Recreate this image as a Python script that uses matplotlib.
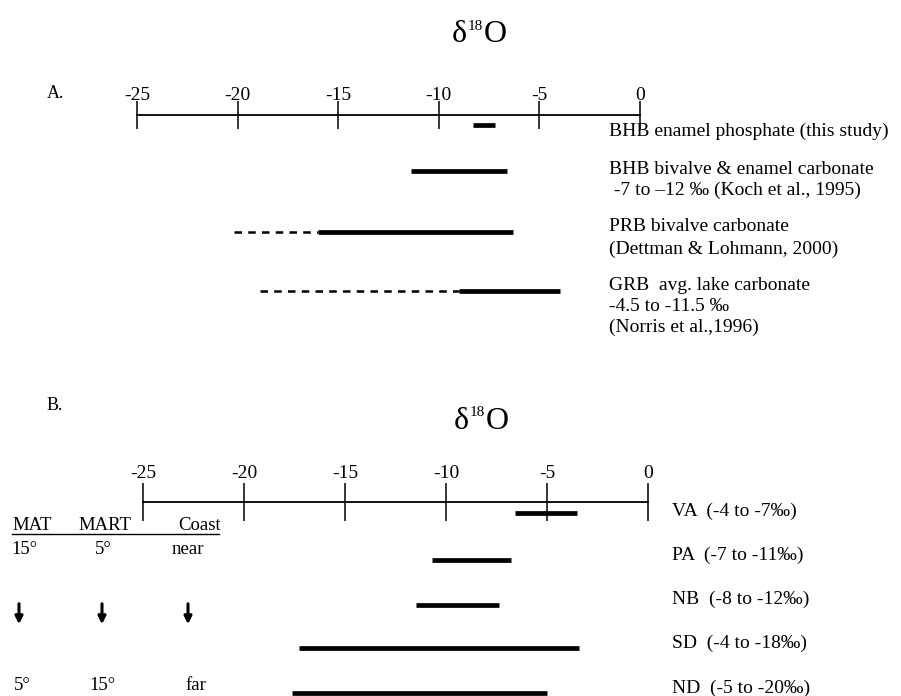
import numpy as np
import matplotlib
matplotlib.use('Agg')
import matplotlib.pyplot as plt
from matplotlib.lines import Line2D
from matplotlib.patches import FancyArrowPatch

plt.rcParams['font.family'] = ['Liberation Serif', 'DejaVu Serif']

# panel A: published d18O ranges
a_labels = [['BHB enamel phosphate (this study)'],
            ['BHB bivalve & enamel carbonate', ' -7 to \u201312 \u2030 (Koch et al., 1995)'],
            ['PRB bivalve carbonate', '(Dettman & Lohmann, 2000)'],
            ['GRB  avg. lake carbonate', '-4.5 to -11.5 \u2030', '(Norris et al.,1996)']]
a_lo = [-8.3, -11.4, -16.0, -9.0]
a_hi = [-7.2, -6.6, -6.3, -4.0]
a_dash_lo = [np.nan, np.nan, -20.2, -18.9]

# panel B: modern sites
b_sites = ['VA', 'PA', 'NB', 'SD', 'ND']
b_ranges = ['(-4 to -7\u2030)', '(-7 to -11\u2030)', '(-8 to -12\u2030)',
            '(-4 to -18\u2030)', '(-5 to -20\u2030)']
b_lo = [-6.6, -10.7, -11.5, -17.3, -17.6]
b_hi = [-3.5, -6.8, -7.4, -3.4, -5.0]

ticks = [-25, -20, -15, -10, -5, 0]

W, H = 901, 696
fig = plt.figure(figsize=(W / 100, H / 100), dpi=100)


def fx(x):
    return x / W


def fy(y):
    return 1 - y / H


def number_line(x0, x1, ytop, ybot, ticklen, pad):
    ax = fig.add_axes([fx(x0), fy(ybot), (x1 - x0) / W, (ybot - ytop) / H])
    ax.set_xlim(-25, 0)
    ax.set_ylim(ybot - ytop, 0)
    for s in ['bottom', 'left', 'right']:
        ax.spines[s].set_visible(False)
    ax.spines['top'].set_linewidth(1.3)
    ax.xaxis.tick_top()
    ax.set_xticks(ticks)
    ax.set_xticklabels([str(t) for t in ticks])
    ax.tick_params(axis='x', direction='inout', length=ticklen, width=1.1,
                   pad=pad, labelsize=14)
    ax.set_yticks([])
    ax.patch.set_visible(False)
    return ax


def delta_title(x, y):
    # x is the left edge of the delta sign
    fig.text(fx(x), fy(y), '\u03b4', fontsize=23, ha='left', va='center')
    fig.text(fx(x + 16), fy(y - 8), '18', fontsize=11, ha='left', va='center')
    fig.text(fx(x + 32), fy(y), 'O', fontsize=23, ha='left', va='center')


# ---- panel A ----
axA = number_line(137, 640, 115, 345, 20, -2)
rowsA = [10, 56, 117, 176]
axA.hlines(rowsA, a_lo, a_hi, color='black', lw=3.4, capstyle='butt')
axA.hlines(rowsA, a_dash_lo, a_lo, color='black', lw=1.8,
           linestyles=(0, (3, 2.5)))

fig.text(fx(47), fy(93), 'A.', fontsize=13, va='center')
delta_title(452, 35)
label_y = [[131], [169, 190], [227, 249], [285, 306, 327]]
for lines, ys in zip(a_labels, label_y):
    for s, y in zip(lines, ys):
        fig.text(fx(609), fy(y), s, fontsize=14, va='center', ha='left')

# ---- panel B ----
axB = number_line(143, 648, 502, 696, 27, 1)
rowsB = [11, 58, 103, 146, 191]
axB.hlines(rowsB, b_lo, b_hi, color='black', lw=3.4, capstyle='butt',
           clip_on=False)

fig.text(fx(47), fy(405), 'B.', fontsize=13, va='center')
delta_title(454, 421)
for site, rng, y in zip(b_sites, b_ranges, [511, 555, 599, 643, 688]):
    fig.text(fx(672), fy(y), site + '  ' + rng, fontsize=14, va='center')

# climate / distance key
fig.text(fx(12), fy(525), 'MAT', fontsize=13.5, va='center')
fig.text(fx(78), fy(525), 'MART', fontsize=13.5, va='center')
fig.text(fx(178), fy(525), 'Coast', fontsize=13.5, va='center')
fig.add_artist(Line2D([fx(12), fx(219)], [fy(534), fy(534)], lw=1, color='black'))
for x, s in zip([24, 103, 188], ['15\u00b0', '5\u00b0', 'near']):
    fig.text(fx(x), fy(550), s, fontsize=13.5, ha='center', va='center')
for x in [19, 102, 188]:
    fig.add_artist(FancyArrowPatch((fx(x), fy(601)), (fx(x), fy(627)),
                                   transform=fig.transFigure,
                                   arrowstyle='-|>', mutation_scale=11,
                                   lw=2.2, color='black'))
for x, s in zip([22, 102, 196], ['5\u00b0', '15\u00b0', 'far']):
    fig.text(fx(x), fy(685), s, fontsize=13.5, ha='center', va='center')

fig.savefig('out.png', dpi=100)
